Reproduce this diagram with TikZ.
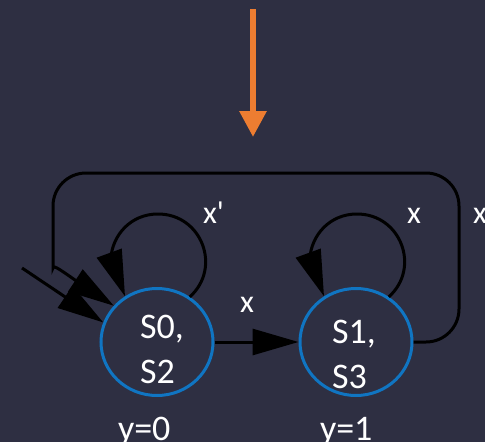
\documentclass[tikz,border=0pt]{standalone}
\usepackage{fontspec}
\setmainfont{Carlito}
\usetikzlibrary{arrows.meta,bending,shapes.geometric}
\definecolor{bg}{RGB}{46,47,66}
\definecolor{orng}{RGB}{237,125,49}
\definecolor{stblue}{RGB}{16,117,194}
\tikzset{
  statenode/.style={ellipse, draw=stblue, line width=3pt, minimum width=112pt, minimum height=107pt, inner sep=0pt},
  bigtxt/.style={text=white, inner sep=0pt, outer sep=0pt, anchor=base west, font=\fontsize{36}{36}\selectfont},
  smalltxt/.style={text=white, inner sep=0pt, outer sep=0pt, anchor=base west, font=\fontsize{32}{32}\selectfont},
  edgeline/.style={draw=black, line width=3pt, -{Triangle[length=46pt,width=26pt]}},
  inarrow/.style={draw=orng, line width=6pt, -{Triangle[length=26pt,width=26pt]}}
}
\begin{document}
\begin{tikzpicture}[x=1pt,y=-1pt]
\fill[bg] (0,0) rectangle (485,442);
\useasboundingbox (0,0) rectangle (485,442);

% orange input arrow
\coordinate (otop) at (253,9);
\coordinate (obot) at (253,137);
\draw[inarrow] (otop) -- (obot);

% states
\node[statenode] (s0) at (157,342) {};
\node[statenode] (s1) at (356,342) {};

% state texts
\node[bigtxt] (t0a) at (140,338) {S0,};
\node[bigtxt] (t0b) at (140,383) {S2};
\node[bigtxt] (t1a) at (332,343) {S1,};
\node[bigtxt] (t1b) at (332,388) {S3};
\node[bigtxt] (y0) at (118,440) {y=0};
\node[bigtxt] (y1) at (320,440) {y=1};

% initial arrow
\coordinate (init) at (22,268);
\draw[edgeline] (init) -- (s0.160);

% S0 -> S1
\draw[edgeline] (s0.east) -- (s1.west);
\node[smalltxt] (lx01) at (240,312) {x};

% self loop S0
\draw[edgeline] (s0.54) .. controls (222,268) and (202,214) .. (158,214)
  .. controls (115,214) and (95,266) .. (s0.125);
\node[smalltxt] (lxp) at (203,223) {x\textquotesingle};

% self loop S1
\draw[edgeline] (s1.54) .. controls (421,268) and (401,214) .. (357,214)
  .. controls (314,214) and (294,266) .. (s1.125);
\node[smalltxt] (lx11) at (407,223) {x};

% feedback S1 -> S0
\draw[edgeline, rounded corners=33pt] (s1.east) -- (459,342) -- (459,173) -- (53,173) -- (53,235)
  .. controls (53,262) and (75,282) .. (s0.140);
\node[smalltxt] (lx10) at (473,223) {x};
\end{tikzpicture}
\end{document}
